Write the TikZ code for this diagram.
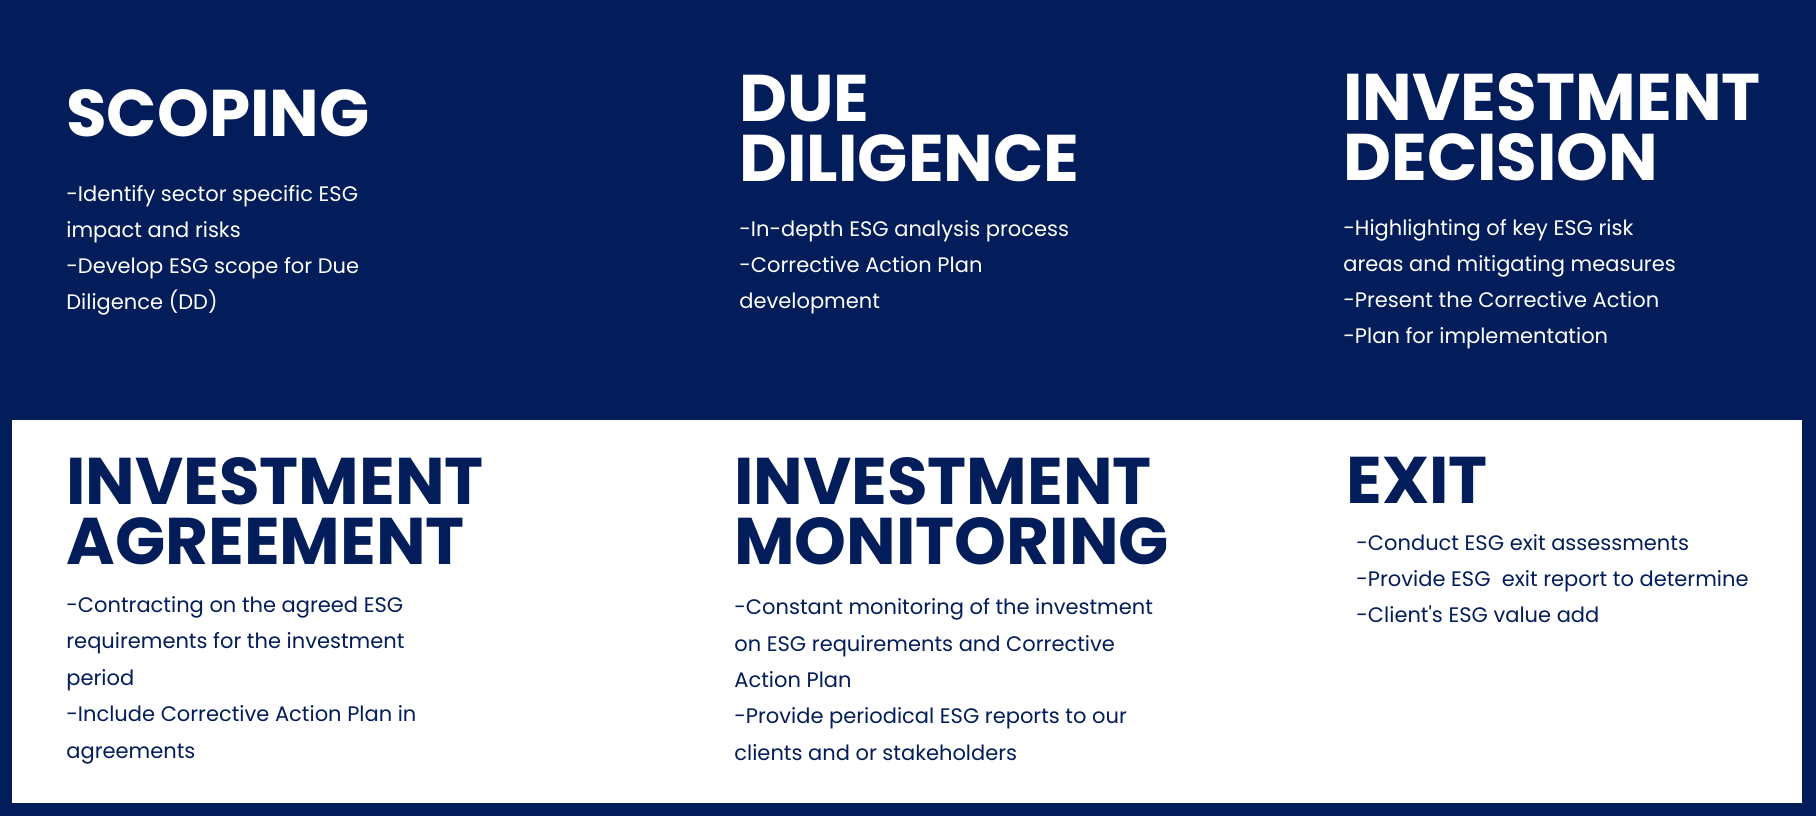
\documentclass[tikz,border=0pt]{standalone}
\usepackage{fontspec}
\setmainfont{Poppins}[Ligatures=TeXOff]
\usetikzlibrary{positioning}
\definecolor{esgnavy}{HTML}{021D5A}
\tikzset{
    stage/.style={
        inner sep=0pt,
        anchor=north west,
        align=left,
        font=\fontsize{33}{30}\selectfont\bfseries
    },
    points/.style={
        inner sep=0pt,
        anchor=north west,
        align=left,
        font=\fontsize{10.5}{18}\selectfont
    }
}

\begin{document}
\begin{tikzpicture}[x=0.5pt,y=-0.5pt]
% background and lower panel
\fill[esgnavy] (0,0) rectangle (1816,816);
\fill[white] (12,420) rectangle (1802,803);
\useasboundingbox (0,0) rectangle (1816,816);

% upper row
\node[stage, text=white] (scope) at (66,89) {SCOPING};
\node[points, text=white, below=24pt of scope.south west, anchor=north west] (scopetxt)
  {-Identify sector specific ESG\\impact and risks\\-Develop ESG scope for Due\\Diligence (DD)};

\node[stage, text=white] (dd) at (739,75) {DUE\\DILIGENCE};
\node[points, text=white, below=19pt of dd.south west, anchor=north west] (ddtxt)
  {-In-depth ESG analysis process\\-Corrective Action Plan\\development};

\node[stage, text=white] (decision) at (1343,73) {INVESTMENT\\DECISION};
\node[points, text=white, below=19pt of decision.south west, anchor=north west] (decisiontxt)
  {-Highlighting of key ESG risk\\areas and mitigating measures\\-Present the Corrective Action\\-Plan for implementation};

% lower row
\node[stage, text=esgnavy] (agree) at (66,457) {INVESTMENT\\AGREEMENT};
\node[points, text=esgnavy, below=15.5pt of agree.south west, anchor=north west,
  font=\fontsize{10.5}{18.2}\selectfont] (agreetxt)
  {-Contracting on the agreed ESG\\requirements for the investment\\period\\-Include Corrective Action Plan in\\agreements};

\node[stage, text=esgnavy] (monitor) at (734,457) {INVESTMENT\\MONITORING};
\node[points, text=esgnavy, below=16.5pt of monitor.south west, anchor=north west,
  font=\fontsize{10.5}{18.2}\selectfont] (monitortxt)
  {-Constant monitoring of the investment\\on ESG requirements and Corrective\\Action Plan\\-Provide periodical ESG reports to our\\clients and or stakeholders};

\node[stage, text=esgnavy] (exit) at (1346,457) {EXIT};
\node[points, text=esgnavy, below=15pt of exit.south west, anchor=north west, xshift=5] (exittxt)
  {-Conduct ESG exit assessments\\-Provide ESG\ \ exit report to determine\\-Client's ESG value add};
\end{tikzpicture}
\end{document}
